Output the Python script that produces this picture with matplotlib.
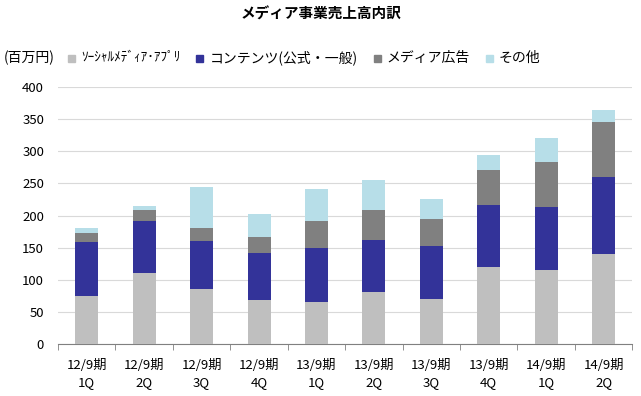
import matplotlib
matplotlib.use("Agg")
import matplotlib.pyplot as plt
from matplotlib.patches import Rectangle
import numpy as np

plt.rcParams['font.family'] = ['Noto Sans CJK JP', 'DejaVu Sans']

categories = ["12/9期\n1Q", "12/9期\n2Q", "12/9期\n3Q", "12/9期\n4Q", "13/9期\n1Q",
              "13/9期\n2Q", "13/9期\n3Q", "13/9期\n4Q", "14/9期\n1Q", "14/9期\n2Q"]
social = [75, 110, 86, 68, 66, 81, 70, 120, 115, 140]
content = [83, 82, 74, 74, 83, 81, 82, 96, 98, 120]
ads = [15, 17, 20, 24, 42, 46, 42, 55, 70, 85]
other = [7, 6, 64, 37, 50, 47, 31, 23, 38, 19]

series = [
    ("ｿｰｼｬﾙﾒﾃﾞｨｱ･ｱﾌﾟﾘ", social, "#BFBFBF"),
    ("コンテンツ(公式・一般)", content, "#333399"),
    ("メディア広告", ads, "#808080"),
    ("その他", other, "#B7DEE8"),
]

W, H = 641, 396
fig = plt.figure(figsize=(W / 100, H / 100), dpi=100)
ax = fig.add_axes([0.0905, 0.1313, 0.896, 0.649])

x = np.arange(len(categories))
bottom = np.zeros(len(categories))
for label, vals, color in series:
    ax.bar(x, vals, width=0.4, bottom=bottom, color=color, label=label, zorder=3)
    bottom += np.array(vals)

ax.set_xlim(-0.5, len(categories) - 0.5)
ax.set_ylim(0, 400)
ax.set_yticks(np.arange(0, 401, 50))
ax.yaxis.grid(True, color="#D9D9D9", linewidth=0.8, zorder=0)
ax.set_axisbelow(True)
for s in ["left", "right", "top"]:
    ax.spines[s].set_visible(False)
ax.spines["bottom"].set_color("#808080")
ax.tick_params(axis="y", length=0, labelsize=9.5, pad=10)
ax.set_xticks(x)
ax.set_xticklabels(categories, fontsize=9.5, linespacing=1.4)
ax.tick_params(axis="x", length=0, pad=11)
ax.set_xticks(np.arange(-0.5, len(categories), 1), minor=True)
ax.tick_params(axis="x", which="minor", length=4, color="#808080", direction="out")

fig.text(0.5, 1 - 14 / H, "メディア事業売上高内訳", ha="center", va="center",
         fontsize=10.5, fontweight="bold")

# legend row (pixel positions)
ly = 58
fig.text(4 / W, 1 - ly / H, "(百万円)", ha="left", va="center", fontsize=10)
renderer = fig.canvas.get_renderer()
px = 68
sizes = [9.5, 10, 10, 10]
for (label, vals, color), fs in zip(series, sizes):
    fig.patches.append(Rectangle((px / W, 1 - (ly + 4) / H), 7 / W, 7 / H,
                                 transform=fig.transFigure, color=color))
    t = fig.text((px + 13) / W, 1 - ly / H, label, ha="left", va="center", fontsize=fs)
    w = t.get_window_extent(renderer).width
    px = px + 13 + w + 16

fig.savefig("out.png", dpi=100)
